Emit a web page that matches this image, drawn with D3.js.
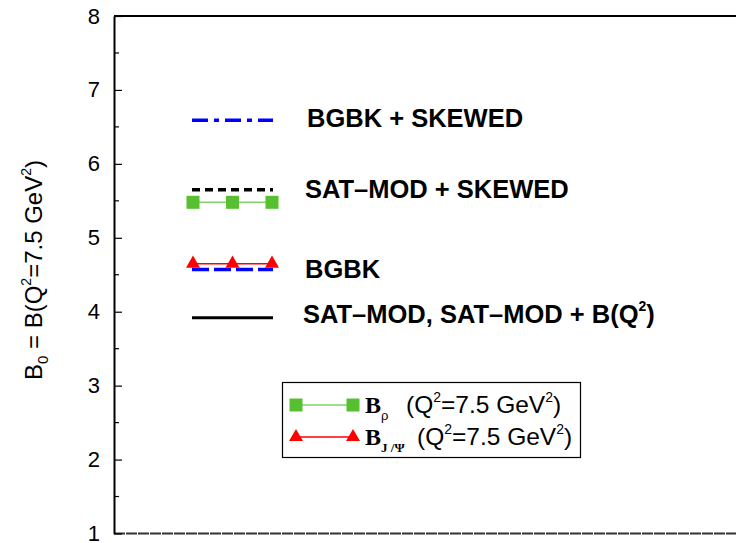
<!DOCTYPE html>
<html>
<head>
<meta charset="utf-8">
<script src="https://cdn.jsdelivr.net/npm/d3@7"></script>
<style>
  body { margin: 0; background: #fff; }
  svg { display: block; }
  text { font-family: Arial, "Liberation Sans", sans-serif; }
</style>
</head>
<body>
<svg id="chart" width="736" height="543"></svg>
<script>
// Slope values B0 at Q^2 = 7.5 GeV^2 for each model
const xPositions = [2, 3, 4];
const bgbkSkewed = 6.59;
const satModSkewed = 5.65;
const bRho = 5.48;
const bJpsi = 4.65;
const bgbk = 4.57;
const satMod = 3.92;

const yTicks = [1, 2, 3, 4, 5, 6, 7, 8];
const yMinorTicks = [1.5, 2.5, 3.5, 4.5, 5.5, 6.5, 7.5];

const modelLabels = [
  { text: "BGBK + SKEWED", sup: null, tail: null, value: bgbkSkewed, x: 307, dy: 7 },
  { text: "SAT\u2013MOD + SKEWED", sup: null, tail: null, value: satModSkewed, x: 305, dy: 8.5 },
  { text: "BGBK", sup: null, tail: null, value: bgbk, x: 305, dy: 8.5 },
  { text: "SAT\u2013MOD, SAT\u2013MOD + B(Q", sup: "2", tail: ")", value: satMod, x: 303, dy: 5.5 }
];

const svg = d3.select("#chart");
const plotLeft = 114, plotTop = 16, plotBottom = 533.5, rightEdge = 736;

const y = d3.scaleLinear().domain([1, 8]).range([plotBottom, plotTop]);
const x = d3.scaleLinear().domain([0, 16]).range([plotLeft, plotLeft + 16 * 39.5]);

// frame: top and bottom borders run off the right edge
svg.append("line").attr("x1", plotLeft).attr("x2", rightEdge)
  .attr("y1", y(8)).attr("y2", y(8)).attr("stroke", "#000").attr("stroke-width", 2);
svg.append("line").attr("x1", plotLeft).attr("x2", rightEdge)
  .attr("y1", y(1)).attr("y2", y(1)).attr("stroke", "#333").attr("stroke-width", 2)
  .attr("stroke-dasharray", "11,1");

// left axis with inward ticks
const yAxis = d3.axisLeft(y).tickValues(yTicks).tickFormat(d3.format("d"))
  .tickSizeInner(-8).tickSizeOuter(0).tickPadding(14);
const gy = svg.append("g").attr("transform", `translate(${plotLeft},0)`).call(yAxis);
gy.select(".domain").attr("stroke-width", 2);
gy.selectAll(".tick line").attr("stroke-width", 1.2);
gy.selectAll(".tick text").attr("font-size", 22).attr("font-family", "Arial, 'Liberation Sans', sans-serif").attr("fill", "#000");
svg.append("g").selectAll("line").data(yMinorTicks).join("line")
  .attr("x1", plotLeft).attr("x2", plotLeft + 5)
  .attr("y1", d => y(d)).attr("y2", d => y(d))
  .attr("stroke", "#000").attr("stroke-width", 1.2);

// y-axis title
const title = svg.append("text")
  .attr("transform", `translate(42,${270}) rotate(-90)`)
  .attr("text-anchor", "middle").attr("font-size", 24);
title.append("tspan").text("B");
title.append("tspan").attr("font-size", 15).attr("dy", 6).text("0");
title.append("tspan").attr("dy", -6).text(" = B(Q");
title.append("tspan").attr("font-size", 14).attr("dy", -11).text("2");
title.append("tspan").attr("dy", 11).text("=7.5 GeV");
title.append("tspan").attr("font-size", 14).attr("dy", -11).text("2");
title.append("tspan").attr("dy", 11).text(")");

const x0 = x(xPositions[0]) - 1, x1 = x(xPositions[xPositions.length - 1]) + 1;
const hline = (v, color, width, dash) => svg.append("line")
  .attr("x1", x0).attr("x2", x1).attr("y1", y(v)).attr("y2", y(v))
  .attr("stroke", color).attr("stroke-width", width)
  .attr("stroke-dasharray", dash || null);

// model curves
hline(bgbkSkewed, "#0000ff", 3.5, "16,6,5,6");
hline(satModSkewed, "#000", 3.5, "8,5");
hline(bgbk, "#0000ff", 3.5, "17,5");
hline(satMod, "#000", 3);

// B_rho: green squares
svg.append("line").attr("x1", x(xPositions[0])).attr("x2", x(xPositions[2]))
  .attr("y1", y(bRho)).attr("y2", y(bRho)).attr("stroke", "#7fd36a").attr("stroke-width", 1.5);
svg.append("g").selectAll("rect").data(xPositions).join("rect")
  .attr("x", d => x(d) - 6.5).attr("y", y(bRho) - 6.5)
  .attr("width", 13).attr("height", 13).attr("fill", "#56c030");

// B_J/psi: red triangles
svg.append("line").attr("x1", x(xPositions[0])).attr("x2", x(xPositions[2]))
  .attr("y1", y(bJpsi)).attr("y2", y(bJpsi)).attr("stroke", "#ff0000").attr("stroke-width", 1.5);
const tri = d3.symbol().type(d3.symbolTriangle).size(85);
svg.append("g").selectAll("path").data(xPositions).join("path")
  .attr("d", tri).attr("transform", d => `translate(${x(d)},${y(bJpsi)})`)
  .attr("fill", "#ff0000");

// model labels
const labels = svg.append("g").selectAll("text").data(modelLabels).join("text")
  .attr("x", d => d.x)
  .attr("y", d => y(d.value) + d.dy)
  .attr("font-size", 25.5).attr("font-weight", "bold");
labels.append("tspan").text(d => d.text);
labels.filter(d => d.sup).append("tspan").attr("font-size", 14).attr("dy", -12).text(d => d.sup);
labels.filter(d => d.tail).append("tspan").attr("dy", 12).text(d => d.tail);

// legend box
const lg = svg.append("g");
lg.append("rect").attr("x", 282.5).attr("y", 382.5).attr("width", 298).attr("height", 75)
  .attr("fill", "#fff").attr("stroke", "#000").attr("stroke-width", 1.2);
const rows = [
  { yc: 405, color: "#7fd36a", fill: "#56c030", marker: "square", sub: "\u03c1", textX: 406 },
  { yc: 437, color: "#ff0000", fill: "#ff0000", marker: "triangle", sub: "J /\u03a8", textX: 417 }
];
rows.forEach(r => {
  lg.append("line").attr("x1", 296).attr("x2", 353).attr("y1", r.yc).attr("y2", r.yc)
    .attr("stroke", r.color).attr("stroke-width", 1.5);
  [296, 353].forEach(cx => {
    if (r.marker === "square") {
      lg.append("rect").attr("x", cx - 6.5).attr("y", r.yc - 6.5).attr("width", 13).attr("height", 13).attr("fill", r.fill);
    } else {
      lg.append("path").attr("d", tri).attr("transform", `translate(${cx},${r.yc})`).attr("fill", r.fill);
    }
  });
  const t = lg.append("text").attr("x", 365).attr("y", r.yc + 8).attr("font-size", 24);
  t.append("tspan").attr("font-family", "'Liberation Serif', 'Times New Roman', serif").attr("font-weight", "bold").text("B");
  t.append("tspan").attr("font-family", r.marker === "square" ? "Arial, sans-serif" : "'Liberation Serif', serif")
    .attr("font-weight", r.marker === "square" ? "normal" : "bold")
    .attr("font-size", 13).attr("dy", 7).text(r.sub);
  const t2 = lg.append("text").attr("x", r.textX).attr("y", r.yc + 7.5).attr("font-size", 24.5);
  t2.append("tspan").text("(Q");
  t2.append("tspan").attr("font-size", 14).attr("dy", -11).text("2");
  t2.append("tspan").attr("dy", 11).text("=7.5 GeV");
  t2.append("tspan").attr("font-size", 14).attr("dy", -11).text("2");
  t2.append("tspan").attr("dy", 11).text(")");
});
</script>
</body>
</html>
